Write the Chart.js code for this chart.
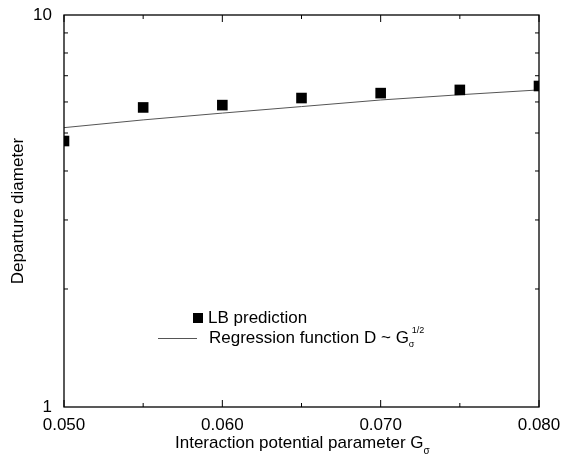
<!DOCTYPE html>
<html><head><meta charset="utf-8">
<script src="https://cdn.jsdelivr.net/npm/chart.js@4/dist/chart.umd.min.js"></script>
<style>html,body{margin:0;padding:0;background:#fff}#wrap{width:562px;height:457px}</style>
</head><body><div id="wrap"><canvas id="c" width="562" height="457"></canvas></div>
<script>
const gValues = [0.050, 0.055, 0.060, 0.065, 0.070, 0.075, 0.080];
const lbPrediction = [4.77, 5.81, 5.89, 6.14, 6.32, 6.44, 6.59];
const regression = [5.16, 5.40, 5.62, 5.84, 6.07, 6.26, 6.44];
const xMajorTicks = [0.050, 0.060, 0.070, 0.080];
const xMinorTicks = [0.055, 0.065, 0.075];
const yTickLabels = {1: '1', 10: '10'};
const yMinorTicks = [2, 3, 4, 5, 6, 7, 8, 9];

const FONT = '"Liberation Sans", Arial, Helvetica, sans-serif';

const framePlugin = {
  id: 'frame',
  afterDraw(chart) {
    const ctx = chart.ctx, a = chart.chartArea;
    const xs = chart.scales.x, ys = chart.scales.y;
    ctx.save();
    ctx.strokeStyle = '#000';
    ctx.lineWidth = 1.3;
    ctx.strokeRect(a.left, a.top, a.right - a.left, a.bottom - a.top);
    ctx.lineWidth = 1;
    ctx.beginPath();
    xMajorTicks.forEach(v => { const p = xs.getPixelForValue(v);
      ctx.moveTo(p, a.bottom); ctx.lineTo(p, a.bottom - 7);
      ctx.moveTo(p, a.top); ctx.lineTo(p, a.top + 7); });
    xMinorTicks.forEach(v => { const p = xs.getPixelForValue(v);
      ctx.moveTo(p, a.bottom); ctx.lineTo(p, a.bottom - 4);
      ctx.moveTo(p, a.top); ctx.lineTo(p, a.top + 4); });
    yMinorTicks.forEach(v => { const p = ys.getPixelForValue(v);
      ctx.moveTo(a.left, p); ctx.lineTo(a.left + 4, p);
      ctx.moveTo(a.right, p); ctx.lineTo(a.right - 4, p); });
    ctx.stroke();

    ctx.fillStyle = '#000';
    // y tick labels
    ctx.font = '17px ' + FONT;
    ctx.textAlign = 'right';
    ctx.textBaseline = 'middle';
    Object.keys(yTickLabels).forEach(k => {
      ctx.fillText(yTickLabels[k], a.left - 12, ys.getPixelForValue(Number(k)));
    });

    // x axis title with subscript
    ctx.textBaseline = 'alphabetic';
    ctx.textAlign = 'left';
    const t1 = 'Interaction potential parameter G';
    const w1 = ctx.measureText(t1).width;
    const startX = 175;
    ctx.fillText(t1, startX, 448);
    ctx.font = '10px ' + FONT;
    ctx.fillText('σ', startX + w1, 454);

    // legend
    ctx.fillRect(193, 313, 10, 10);
    ctx.font = '17px ' + FONT;
    ctx.textBaseline = 'middle';
    ctx.fillText('LB prediction', 208, 318);
    ctx.strokeStyle = '#555';
    ctx.lineWidth = 1;
    ctx.beginPath(); ctx.moveTo(158, 338.5); ctx.lineTo(197, 338.5); ctx.stroke();
    const t2 = 'Regression function D ~ G';
    ctx.fillText(t2, 209, 338);
    const w2 = ctx.measureText(t2).width;
    ctx.font = '9px ' + FONT;
    ctx.fillText('σ', 209 + w2, 345);
    ctx.fillText('1/2', 209 + w2 + 3, 331);
    ctx.restore();
  }
};

new Chart(document.getElementById('c'), {
  type: 'scatter',
  data: {
    datasets: [
      { label: 'LB prediction', data: gValues.map((g, i) => ({x: g, y: lbPrediction[i]})),
        pointStyle: 'rect', pointRadius: 7.5, pointHoverRadius: 7.5,
        backgroundColor: '#000', borderColor: '#000', borderWidth: 0, showLine: false },
      { label: 'Regression function D ~ Gσ^1/2', data: gValues.map((g, i) => ({x: g, y: regression[i]})),
        showLine: true, pointRadius: 0, borderColor: '#555', borderWidth: 1, fill: false, tension: 0 }
    ]
  },
  options: {
    responsive: false, animation: false, devicePixelRatio: 1,
    layout: { padding: { top: 15, right: 23, left: 0, bottom: 0 } },
    plugins: { legend: { display: false }, tooltip: { enabled: false } },
    scales: {
      x: { type: 'linear', min: 0.05, max: 0.08,
        grid: { display: false }, border: { display: false },
        ticks: { stepSize: 0.01, color: '#000', font: { size: 17, family: FONT }, padding: 0,
          callback: v => v.toFixed(3), maxRotation: 0 },
        afterFit: s => { s.height = 50; } },
      y: { type: 'logarithmic', min: 1, max: 10,
        grid: { display: false }, border: { display: false },
        title: { display: true, text: 'Departure diameter', color: '#000', font: { size: 17, family: FONT }, padding: { top: 8, bottom: 0 } },
        ticks: { display: false },
        afterFit: s => { s.width = 64; } }
    }
  },
  plugins: [framePlugin]
});
</script></body></html>
